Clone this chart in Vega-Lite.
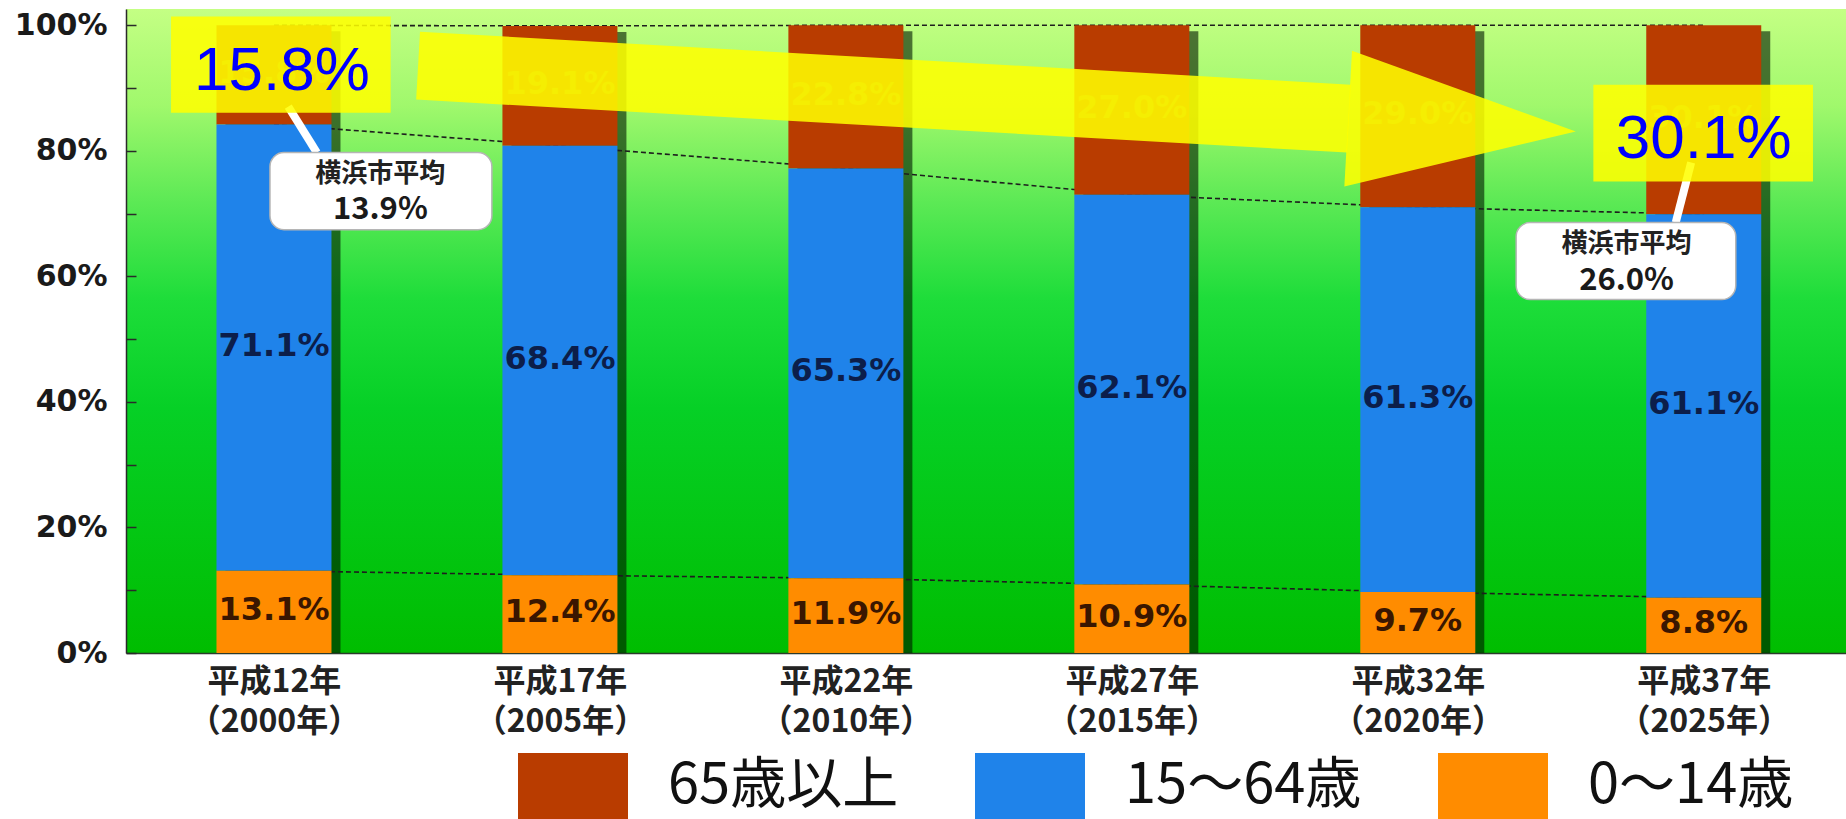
{
  "$schema": "https://vega.github.io/schema/vega-lite/v6.json",
  "width": 1720,
  "height": 644,
  "autosize": "none",
  "padding": {"left": 126, "top": 9, "right": 0, "bottom": 166},
  "background": "white",
  "config": {"axis": {"title": null, "grid": false}},
  "view": {
    "stroke": null,
    "fill": {
      "gradient": "linear", "x1": 0, "y1": 0, "x2": 0, "y2": 1,
      "stops": [
        {"offset": 0, "color": "#c4ff84"},
        {"offset": 0.15, "color": "#a0f86c"},
        {"offset": 0.3, "color": "#5ce955"},
        {"offset": 0.45, "color": "#1edd3a"},
        {"offset": 0.62, "color": "#06d026"},
        {"offset": 1, "color": "#00bd00"}
      ]
    }
  },
  "datasets": {
    "table": [
      {"year": 2000, "age": "65歳以上", "pct": 15.8},
      {"year": 2000, "age": "15〜64歳", "pct": 71.1},
      {"year": 2000, "age": "0〜14歳", "pct": 13.1},
      {"year": 2005, "age": "65歳以上", "pct": 19.1},
      {"year": 2005, "age": "15〜64歳", "pct": 68.4},
      {"year": 2005, "age": "0〜14歳", "pct": 12.4},
      {"year": 2010, "age": "65歳以上", "pct": 22.8},
      {"year": 2010, "age": "15〜64歳", "pct": 65.3},
      {"year": 2010, "age": "0〜14歳", "pct": 11.9},
      {"year": 2015, "age": "65歳以上", "pct": 27.0},
      {"year": 2015, "age": "15〜64歳", "pct": 62.1},
      {"year": 2015, "age": "0〜14歳", "pct": 10.9},
      {"year": 2020, "age": "65歳以上", "pct": 29.0},
      {"year": 2020, "age": "15〜64歳", "pct": 61.3},
      {"year": 2020, "age": "0〜14歳", "pct": 9.7},
      {"year": 2025, "age": "65歳以上", "pct": 30.1},
      {"year": 2025, "age": "15〜64歳", "pct": 61.1},
      {"year": 2025, "age": "0〜14歳", "pct": 8.8}
    ],
    "cbox": [
      {"x": 1999.93, "x2": 2003.81, "y": 79.72, "y2": 67.45},
      {"x": 2021.72, "x2": 2025.56, "y": 68.57, "y2": 56.3}
    ],
    "pointer": [
      {"x": 2000.25, "y": 87.05, "x2": 2000.75, "y2": 79.72},
      {"x": 2024.78, "y": 78.14, "x2": 2024.51, "y2": 68.57}
    ],
    "ctitle": [
      {"x": 2001.86, "y": 76.3, "t": "横浜市平均"},
      {"x": 2023.65, "y": 65.2, "t": "横浜市平均"}
    ],
    "cvalue": [
      {"x": 2001.86, "y": 70.5, "t": "13.9%"},
      {"x": 2023.65, "y": 59.2, "t": "26.0%"}
    ],
    "shaft": [
      {"x": 2002.52, "y": 93.58},
      {"x": 2018.795, "y": 85.14}
    ],
    "head": [
      {"x": 2020.773, "y": 84.11}
    ],
    "ybox": [
      {"x": 1998.2, "x2": 2002.04, "y": 101.39, "y2": 86.09},
      {"x": 2023.07, "x2": 2026.91, "y": 90.55, "y2": 75.1}
    ],
    "ytext": [
      {"x": 2000.14, "y": 92.78, "t": "15.8%"},
      {"x": 2025.0, "y": 81.96, "t": "30.1%"}
    ]
  },
  "layer": [
    {
      "data": {"name": "table"},
      "transform": [
        {"stack": "pct", "groupby": ["year"], "sort": [{"field": "age", "order": "ascending"}], "as": ["v0", "v1"]},
        {"calculate": "(datum.v0 + datum.v1) / 2", "as": "mid"},
        {"calculate": "format(datum.pct, '.1f') + '%'", "as": "lbl"}
      ],
      "layer": [
        {
          "mark": {"type": "bar", "size": 115, "xOffset": 9, "yOffset": 6, "color": "#001800", "opacity": 0.6},
          "encoding": {
            "x": {
              "field": "year", "type": "quantitative",
              "scale": {"domain": [1997.5, 2027.4], "nice": false, "zero": false},
              "axis": {
                "values": [2000, 2005, 2010, 2015, 2020, 2025],
                "labelExpr": "['平成' + (datum.value - 1988) + '年', '（' + datum.value + '年）']",
                "ticks": false, "grid": false, "title": null,
                "domainColor": "#2b3b2b", "domainWidth": 1.5,
                "labelFont": "Noto Sans CJK JP", "labelFontWeight": "bold", "labelFontSize": 32,
                "labelColor": "#222222", "labelLineHeight": 40, "labelPadding": 13,
                "labelFlush": false, "labelOverlap": false, "labelLimit": 400
              }
            },
            "y": {
              "aggregate": "sum", "field": "pct", "type": "quantitative",
              "scale": {"domain": [0, 102.6], "nice": false},
              "axis": {
                "values": [0, 10, 20, 30, 40, 50, 60, 70, 80, 90, 100],
                "labelExpr": "datum.value % 20 == 0 ? datum.value + '%' : ''",
                "tickSize": -10, "tickColor": "#2a2a2a", "tickWidth": 1.5,
                "domainColor": "#2a2a2a", "domainWidth": 1.5,
                "grid": false, "title": null,
                "labelFont": "DejaVu Sans", "labelFontWeight": "bold", "labelFontSize": 30,
                "labelColor": "#1a1a1a", "labelPadding": 29
              }
            }
          }
        },
        {
          "mark": {"type": "line", "color": "#1e1e1e", "strokeWidth": 1.6, "strokeDash": [5, 3]},
          "encoding": {
            "x": {"field": "year", "type": "quantitative", "scale": {"domain": [1997.5, 2027.4], "nice": false, "zero": false}},
            "y": {"field": "v1", "type": "quantitative", "scale": {"domain": [0, 102.6], "nice": false}},
            "detail": {"field": "age", "type": "nominal"}
          }
        },
        {
          "mark": {"type": "bar", "size": 115},
          "encoding": {
            "x": {"field": "year", "type": "quantitative", "scale": {"domain": [1997.5, 2027.4], "nice": false, "zero": false}},
            "y": {"field": "v1", "type": "quantitative", "scale": {"domain": [0, 102.6], "nice": false}},
            "y2": {"field": "v0"},
            "color": {
              "field": "age", "type": "nominal",
              "scale": {"domain": ["65歳以上", "15〜64歳", "0〜14歳"], "range": ["#b93c00", "#1f83ea", "#ff8c00"]},
              "legend": {
                "orient": "none", "legendX": 392, "legendY": 722, "direction": "horizontal",
                "title": null, "symbolType": "M-1,-0.6H1V0.6H-1Z", "symbolSize": 12100,
                "symbolStrokeWidth": 0, "symbolOpacity": 1,
                "labelFont": "Noto Sans CJK JP", "labelFontSize": 56, "labelColor": "#111111",
                "labelOffset": 40, "columnPadding": 76, "labelLimit": 500
              }
            }
          }
        },
        {
          "mark": {"type": "text", "font": "DejaVu Sans", "fontWeight": "bold", "fontSize": 32, "dy": -2},
          "encoding": {
            "x": {"field": "year", "type": "quantitative", "scale": {"domain": [1997.5, 2027.4], "nice": false, "zero": false}},
            "y": {"field": "mid", "type": "quantitative", "scale": {"domain": [0, 102.6], "nice": false}},
            "text": {"field": "lbl"},
            "color": {
              "condition": [
                {"test": "datum.age == '15〜64歳'", "value": "#0c1e4a"},
                {"test": "datum.age == '0〜14歳'", "value": "#3a1600"}
              ],
              "value": "#b07a10"
            }
          }
        }
      ]
    },
    {
      "data": {"name": "pointer"},
      "mark": {"type": "rule", "color": "white", "strokeWidth": 8},
      "encoding": {
        "x": {"field": "x", "type": "quantitative", "scale": {"domain": [1997.5, 2027.4], "nice": false, "zero": false}},
        "y": {"field": "y", "type": "quantitative", "scale": {"domain": [0, 102.6], "nice": false}},
        "x2": {"field": "x2"},
        "y2": {"field": "y2"}
      }
    },
    {
      "data": {"name": "cbox"},
      "mark": {"type": "rect", "color": "white", "cornerRadius": 14, "stroke": "#b5b5b5", "strokeWidth": 1.5},
      "encoding": {
        "x": {"field": "x", "type": "quantitative", "scale": {"domain": [1997.5, 2027.4], "nice": false, "zero": false}},
        "y": {"field": "y", "type": "quantitative", "scale": {"domain": [0, 102.6], "nice": false}},
        "x2": {"field": "x2"},
        "y2": {"field": "y2"}
      }
    },
    {
      "data": {"name": "ctitle"},
      "mark": {"type": "text", "font": "Noto Sans CJK JP", "fontWeight": "bold", "fontSize": 26, "color": "#222222"},
      "encoding": {
        "x": {"field": "x", "type": "quantitative", "scale": {"domain": [1997.5, 2027.4], "nice": false, "zero": false}},
        "y": {"field": "y", "type": "quantitative", "scale": {"domain": [0, 102.6], "nice": false}},
        "text": {"field": "t"}
      }
    },
    {
      "data": {"name": "cvalue"},
      "mark": {"type": "text", "font": "Noto Sans CJK JP", "fontWeight": "bold", "fontSize": 31, "color": "#1a1a1a"},
      "encoding": {
        "x": {"field": "x", "type": "quantitative", "scale": {"domain": [1997.5, 2027.4], "nice": false, "zero": false}},
        "y": {"field": "y", "type": "quantitative", "scale": {"domain": [0, 102.6], "nice": false}},
        "text": {"field": "t"}
      }
    },
    {
      "data": {"name": "shaft"},
      "mark": {"type": "line", "color": "#ffff00", "opacity": 0.87, "strokeWidth": 68, "strokeCap": "butt"},
      "encoding": {
        "x": {"field": "x", "type": "quantitative", "scale": {"domain": [1997.5, 2027.4], "nice": false, "zero": false}},
        "y": {"field": "y", "type": "quantitative", "scale": {"domain": [0, 102.6], "nice": false}}
      }
    },
    {
      "data": {"name": "head"},
      "mark": {"type": "point", "shape": "M-1,-0.596L1,0L-1,0.596Z", "size": 51984, "filled": true, "color": "#ffff00", "opacity": 0.87, "strokeWidth": 0, "angle": 3.24},
      "encoding": {
        "x": {"field": "x", "type": "quantitative", "scale": {"domain": [1997.5, 2027.4], "nice": false, "zero": false}},
        "y": {"field": "y", "type": "quantitative", "scale": {"domain": [0, 102.6], "nice": false}}
      }
    },
    {
      "data": {"name": "ybox"},
      "mark": {"type": "rect", "color": "#ffff00", "opacity": 0.87},
      "encoding": {
        "x": {"field": "x", "type": "quantitative", "scale": {"domain": [1997.5, 2027.4], "nice": false, "zero": false}},
        "y": {"field": "y", "type": "quantitative", "scale": {"domain": [0, 102.6], "nice": false}},
        "x2": {"field": "x2"},
        "y2": {"field": "y2"}
      }
    },
    {
      "data": {"name": "ytext"},
      "mark": {"type": "text", "font": "Liberation Sans", "fontSize": 62, "color": "#0000ff"},
      "encoding": {
        "x": {"field": "x", "type": "quantitative", "scale": {"domain": [1997.5, 2027.4], "nice": false, "zero": false}},
        "y": {"field": "y", "type": "quantitative", "scale": {"domain": [0, 102.6], "nice": false}},
        "text": {"field": "t"}
      }
    }
  ]
}
